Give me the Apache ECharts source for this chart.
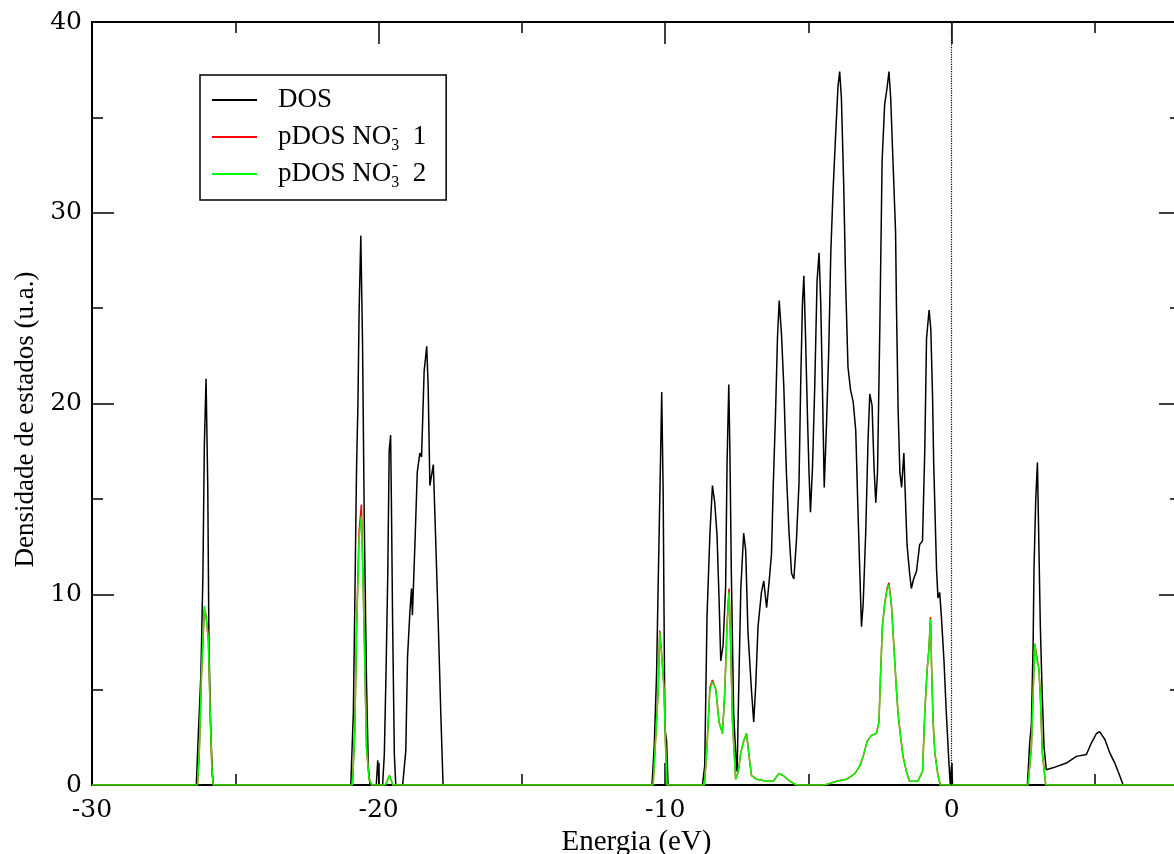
<!DOCTYPE html>
<html><head><meta charset="utf-8">
<script src="https://cdn.jsdelivr.net/npm/echarts@6/dist/echarts.min.js"></script>
<style>html,body{margin:0;padding:0;background:#fff}#c{width:1174px;height:854px}</style>
</head><body><div id="c"></div>
<script>
const xTickLabels = [-30, -20, -10, 0];
const yTickLabels = [0, 10, 20, 30, 40];
const seriesNames = ['DOS', 'pDOS NO3- 1', 'pDOS NO3- 2'];

const dosE = [-30, -26.36, -26.30, -26.20, -26.13, -26.08, -26.02, -25.96, -25.92, -25.86, -25.80, -25.76,
  -20.97, -20.88, -20.83, -20.77, -20.72, -20.68, -20.62, -20.56, -20.50, -20.42, -20.36, -20.30,
  -20.08, -20.03, -19.98, -19.86, -19.80, -19.74, -19.68, -19.63, -19.58, -19.55, -19.51, -19.45, -19.40,
  -19.16, -19.05, -18.99, -18.91, -18.85, -18.82, -18.73, -18.65, -18.56, -18.50, -18.41, -18.32, -18.27, -18.21, -18.09, -18.00, -17.92, -17.83, -17.75,
  -10.46, -10.38, -10.30, -10.24, -10.16, -10.12, -10.07, -10.01, -9.95, -9.90,
  -8.70, -8.62, -8.54, -8.44, -8.35, -8.27, -8.19, -8.12, -8.06, -7.98,
  -7.89, -7.84, -7.78, -7.74, -7.69, -7.61, -7.54, -7.49, -7.45, -7.36,
  -7.26, -7.19, -7.11, -6.99, -6.91, -6.84, -6.76, -6.64, -6.56, -6.46,
  -6.37, -6.29, -6.23, -6.15, -6.08, -6.02, -5.94, -5.86, -5.77, -5.68,
  -5.59, -5.51, -5.42, -5.33, -5.27, -5.21, -5.16, -5.10, -5.03, -4.98,
  -4.93, -4.86, -4.78, -4.70, -4.63, -4.57, -4.51, -4.45, -4.37, -4.29,
  -4.22, -4.14, -4.06, -3.97, -3.91, -3.85, -3.77, -3.70, -3.62, -3.53,
  -3.44, -3.35, -3.27, -3.21, -3.15, -3.09, -3.00, -2.92, -2.86, -2.78,
  -2.71, -2.65, -2.59, -2.51, -2.43, -2.34, -2.26, -2.19, -2.13, -2.05,
  -1.96, -1.93, -1.87, -1.81, -1.75, -1.67, -1.63, -1.56, -1.47, -1.41,
  -1.33, -1.23, -1.12, -1.02, -0.94, -0.88, -0.79, -0.73, -0.67, -0.63,
  -0.53, -0.48, -0.42, -0.36, -0.27, -0.19, -0.10, -0.05, -0.01, 0.03,
  2.64, 2.72, 2.78, 2.84, 2.87, 2.93, 2.99, 3.03, 3.09, 3.15, 3.22, 3.30, 3.53, 4.00, 4.35, 4.70, 4.87, 5.05, 5.16, 5.34, 5.51, 5.69, 5.86, 5.98, 8];
const dosV = [0, 0, 2.3, 5.8, 11.0, 17.8, 21.3, 15.6, 7.5, 3.0, 0.5, 0,
  0, 3.8, 9.4, 16.5, 20.0, 24.8, 28.8, 23.2, 13.9, 5.3, 1.0, 0,
  0, 1.3, 0, 0, 1.6, 5.9, 11.0, 17.5, 18.35, 14.5, 8.5, 1.6, 0,
  0, 1.8, 6.7, 9.0, 10.3, 8.9, 12.7, 16.4, 17.4, 17.2, 21.7, 23.0, 20.9, 15.7, 16.8, 12.5, 8.6, 3.8, 0,
  0, 2.1, 5.8, 10.8, 17.2, 20.6, 15.4, 3.0, 2.3, 0,
  0, 1.0, 8.8, 13.1, 15.7, 14.8, 13.1, 9.8, 6.5, 7.3,
  10.4, 16.9, 21.0, 17.4, 11.1, 3.8, 1.7, 0.7, 3.8, 10.3,
  13.2, 12.3, 8.0, 5.0, 3.3, 5.2, 8.3, 10.1, 10.7, 9.3,
  10.7, 12.1, 15.6, 19.4, 23.5, 25.4, 23.6, 20.9, 16.4, 13.3,
  11.1, 10.8, 12.8, 15.8, 21.1, 25.2, 26.7, 23.4, 19.1, 16.4,
  14.3, 16.6, 20.9, 26.4, 27.9, 25.2, 20.7, 15.6, 18.9, 22.9,
  27.9, 31.2, 33.8, 36.6, 37.4, 36.0, 31.5, 26.2, 21.9, 20.7,
  20.1, 18.6, 14.3, 11.3, 8.3, 9.5, 13.3, 18.1, 20.5, 19.9,
  16.6, 14.8, 16.4, 23.9, 32.7, 35.7, 36.5, 37.4, 36.0, 32.7,
  29.0, 25.2, 19.6, 16.4, 15.6, 17.4, 15.6, 12.6, 11.1, 10.3,
  10.8, 11.2, 12.6, 12.8, 17.6, 23.4, 24.9, 23.9, 20.4, 16.9,
  11.3, 9.8, 10.1, 8.8, 6.5, 3.8, 1.2, 0, 1.0, 0,
  0, 2.2, 3.2, 7.4, 11.3, 14.9, 16.9, 13.5, 8.4, 5.1, 2.0, 0.8, 0.9, 1.15, 1.5, 1.6, 2.2, 2.7, 2.8, 2.4, 1.7, 1.15, 0.5, 0, 0];

const pdosE = [-30, -26.32, -26.26, -26.18, -26.08, -26.02, -25.94, -25.88, -25.82, -25.77,
  -20.91, -20.83, -20.77, -20.68, -20.60, -20.54, -20.48, -20.42, -20.33, -20.24,
  -19.76, -19.62, -19.50,
  -10.42, -10.30, -10.24, -10.19, -10.13, -10.04, -9.99, -9.94,
  -8.63, -8.54, -8.44, -8.35, -8.23, -8.12, -8.00, -7.92, -7.84, -7.77,
  -7.71, -7.65, -7.54, -7.45, -7.36, -7.26, -7.16, -7.07, -6.99, -6.81,
  -6.46, -6.23, -6.03, -5.88, -5.65, -5.42,
  -4.43, -4.02, -3.67, -3.38, -3.21, -3.09, -2.95, -2.80, -2.63, -2.54,
  -2.49, -2.42, -2.34, -2.26, -2.19, -2.10, -2.02, -1.93, -1.87, -1.79,
  -1.70, -1.58, -1.47, -1.18, -1.02, -0.94, -0.86, -0.80, -0.74, -0.70,
  -0.65, -0.59, -0.48, -0.40,
  2.66, 2.78, 2.84, 2.90, 2.95, 3.04, 3.09, 3.16, 3.28, 8];
const pdos1 = [0, 0, 1.5, 5.7, 9.2, 8.9, 7.6, 4.1, 1.0, 0,
  0, 2.9, 8.1, 13.3, 14.7, 10.8, 6.4, 1.9, 0.3, 0,
  0, 0.5, 0,
  0, 3.4, 5.1, 8.1, 7.0, 5.1, 2.3, 0,
  0, 2.0, 5.1, 5.5, 5.0, 3.3, 2.7, 4.9, 8.5, 10.3,
  7.1, 3.3, 0.3, 0.7, 1.7, 2.3, 2.7, 1.5, 0.5, 0.3,
  0.2, 0.2, 0.6, 0.5, 0.2, 0,
  0, 0.2, 0.3, 0.6, 1.0, 1.5, 2.3, 2.6, 2.7, 3.3,
  5.5, 8.3, 9.5, 10.3, 10.6, 9.4, 7.3, 5.0, 3.7, 2.6,
  1.5, 0.7, 0.2, 0.2, 0.7, 3.8, 6.0, 7.1, 8.8, 6.0,
  3.3, 1.7, 0.5, 0,
  0, 2.0, 4.9, 7.4, 6.9, 6.1, 4.7, 1.7, 0, 0];
const pdos2 = [0, 0, 1.6, 5.8, 9.4, 8.8, 7.7, 4.0, 1.0, 0,
  0, 2.8, 7.9, 12.9, 14.1, 10.4, 6.3, 1.9, 0.3, 0,
  0, 0.5, 0,
  0, 3.3, 5.0, 8.0, 7.0, 5.0, 2.3, 0,
  0, 2.0, 5.0, 5.4, 5.0, 3.3, 2.7, 4.8, 8.3, 10.1,
  7.0, 3.3, 0.3, 0.7, 1.7, 2.3, 2.7, 1.5, 0.5, 0.3,
  0.2, 0.2, 0.6, 0.5, 0.2, 0,
  0, 0.2, 0.3, 0.6, 1.0, 1.5, 2.3, 2.6, 2.7, 3.3,
  5.5, 8.3, 9.5, 10.2, 10.5, 9.3, 7.3, 5.0, 3.7, 2.6,
  1.5, 0.7, 0.2, 0.2, 0.7, 3.8, 6.0, 7.0, 8.7, 6.0,
  3.3, 1.7, 0.5, 0,
  0, 2.0, 4.8, 7.4, 6.7, 6.1, 4.7, 1.7, 0, 0];

const pair = (E, V) => E.map((e, i) => [e, V[i]]);
const xMin = xTickLabels[0], xMax = 8, xStep = xTickLabels[1] - xTickLabels[0];
const yMin = yTickLabels[0], yMax = yTickLabels[yTickLabels.length - 1], yStep = yTickLabels[1] - yTickLabels[0];
const black = '#000';
const axisLineStyle = { show: true, onZero: false, lineStyle: { color: black, width: 2 } };

function xAx(position, interval, tickLen, labels) {
  return {
    type: 'value', position: position, min: xMin, max: xMax, interval: interval,
    axisLine: axisLineStyle,
    axisTick: { show: true, inside: true, length: tickLen, lineStyle: { color: black, width: 1.5 } },
    axisLabel: labels ? {
      show: true, margin: 13, color: black, fontFamily: 'DejaVu Serif', fontSize: 25,
      showMaxLabel: false,
      formatter: v => xTickLabels.indexOf(v) >= 0 ? String(v) : ''
    } : { show: false },
    splitLine: { show: false }
  };
}
function yAx(position, labels) {
  return {
    type: 'value', position: position, min: yMin, max: yMax, interval: yStep,
    axisLine: axisLineStyle,
    axisTick: { show: true, inside: true, length: 22, lineStyle: { color: black, width: 1.5 } },
    minorTick: { show: true, splitNumber: 2, length: 11, lineStyle: { color: black, width: 1.5 } },
    axisLabel: labels ? { show: true, margin: 10, color: black, fontFamily: 'DejaVu Serif', fontSize: 25 } : { show: false },
    splitLine: { show: false }
  };
}

const xBottom = xAx('bottom', xStep, 22, true);
xBottom.name = 'Energia (eV)';
xBottom.nameLocation = 'middle';
xBottom.nameGap = 38;
xBottom.nameTextStyle = { fontFamily: 'Liberation Serif', fontSize: 29, color: black };
const yLeft = yAx('left', true);
yLeft.name = 'Densidade de estados (u.a.)';
yLeft.nameLocation = 'middle';
yLeft.nameRotate = 90;
yLeft.nameGap = 48;
yLeft.nameTextStyle = { fontFamily: 'Liberation Serif', fontSize: 27, color: black, padding: [0, 32, 0, 0] };

const chart = echarts.init(document.getElementById('c'), null, { renderer: 'canvas' });
chart.setOption({
  animation: false,
  backgroundColor: '#fff',
  grid: { left: 92, right: -7, top: 22, bottom: 69, containLabel: false, outerBoundsMode: 'none' },
  xAxis: [xBottom, xAx('bottom', xStep / 2, 11, false), xAx('top', xStep, 22, false), xAx('top', xStep / 2, 11, false)],
  yAxis: [yLeft, yAx('right', false)],
  legend: {
    show: true, orient: 'vertical', left: 200, top: 75,
    itemWidth: 45, itemHeight: 2, icon: 'rect', itemGap: 3,
    padding: [8, 20, 9, 12], borderColor: black, borderWidth: 1.5, selectedMode: false,
    data: seriesNames,
    formatter: function (name) {
      if (name === 'DOS') return 'DOS';
      const n = name.slice(-1);
      return 'pDOS NO{sub|3}{sup|-} ' + n;
    },
    textStyle: {
      fontFamily: 'Liberation Serif', fontSize: 27, color: black, lineHeight: 34, padding: [0, 0, 0, 16],
      rich: {
        sub: { fontFamily: 'Liberation Serif', fontSize: 16, color: black, verticalAlign: 'bottom', width: 1, lineHeight: 34 },
        sup: { fontFamily: 'Liberation Serif', fontSize: 17, color: black, verticalAlign: 'top', padding: [0, 8, 0, 0], lineHeight: 34 }
      }
    }
  },
  series: [
    {
      name: seriesNames[0], type: 'line', data: pair(dosE, dosV), symbol: 'none', color: black,
      lineStyle: { color: black, width: 1.5 }, silent: true, emphasis: { disabled: true },
      markLine: {
        silent: true, symbol: ['none', 'none'], label: { show: false },
        lineStyle: { type: 'dotted', color: black, width: 1.2 },
        data: [{ xAxis: 0 }]
      }
    },
    {
      name: seriesNames[1], type: 'line', data: pair(pdosE, pdos1), symbol: 'none', color: '#ff0000',
      lineStyle: { color: '#ff0000', width: 1.5 }, silent: true, emphasis: { disabled: true }
    },
    {
      name: seriesNames[2], type: 'line', data: pair(pdosE, pdos2), symbol: 'none', color: '#00ff00',
      lineStyle: { color: '#00ff00', width: 1.5 }, silent: true, emphasis: { disabled: true }
    }
  ]
});
</script>
</body></html>
